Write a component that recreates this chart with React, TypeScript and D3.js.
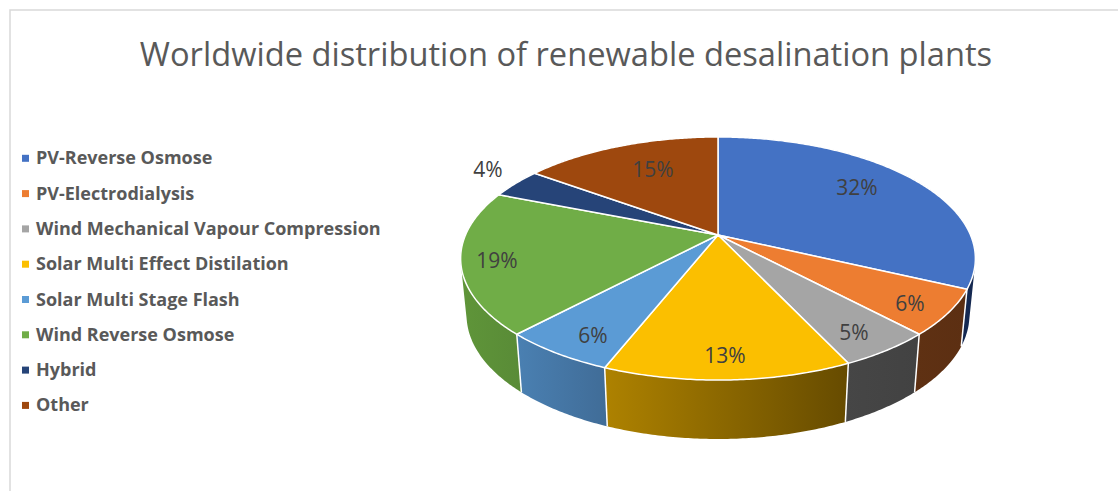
import React from "react";
import * as d3 from "d3";

const titleText = "Worldwide distribution of renewable desalination plants";
const categories = [
  "PV-Reverse Osmose",
  "PV-Electrodialysis",
  "Wind Mechanical Vapour Compression",
  "Solar Multi Effect Distilation",
  "Solar Multi Stage Flash",
  "Wind Reverse Osmose",
  "Hybrid",
  "Other",
];
const shares = [32, 6, 5, 13, 6, 19, 4, 15];
const faceColors = ["#4472C4", "#ED7D31", "#A5A5A5", "#FBBF00", "#5B9BD5", "#70AD47", "#264478", "#9E480E"];
const wallStart = ["#1C3768", "#5F3113", "#464646", "#AE8200", "#4A80B2", "#5F9539", "#1A2F55", "#6A300A"];
const wallEnd = ["#142850", "#5C2F12", "#424242", "#664B00", "#406C97", "#598B37", "#1A2F55", "#6A300A"];

// Label centres as pixel offsets from the pie's apex, one per slice.
const labelOffsets = [
  [139, -47],
  [192, 69],
  [136, 98],
  [7, 121],
  [-125, 101],
  [-221, 26],
  [-230, -65],
  [-65, -65],
];

const WIDTH = 1118;
const HEIGHT = 491;
const APEX_X = 718;
const APEX_Y = 235;
const RADIUS = 252.5;
const TILT = 117;
const PERSPECTIVE = 0.1935;
const WALL_DROP = 56;
const WALL_WIDTH = 0.977;
const WALL_TILT = 1.02;

const LEGEND_TOP = 158.3;
const LEGEND_STEP = 35.3;

// Perspective projection of a point on the pie's rim; angle runs clockwise from 12 o'clock.
function rimPoint(angle: number) {
  const u = Math.sin(angle);
  const v = -Math.cos(angle);
  const w = 1 - PERSPECTIVE * v;
  return { x: (RADIUS * u) / w, y: (TILT * v) / w };
}

const topPoint = (a: number): [number, number] => {
  const p = rimPoint(a);
  return [APEX_X + p.x, APEX_Y + p.y];
};
const bottomPoint = (a: number): [number, number] => {
  const p = rimPoint(a);
  return [APEX_X + p.x * WALL_WIDTH, APEX_Y + WALL_DROP + p.y * WALL_TILT];
};

const sampleAngles = (start: number, end: number) => {
  const n = Math.max(2, Math.ceil((end - start) / 0.01));
  return d3.range(n + 1).map((i) => start + ((end - start) * i) / n);
};

export default function App() {
  const slices = d3
    .pie<number>()
    .sort(null)
    .startAngle(0)
    .endAngle(2 * Math.PI)(shares);
  const line = d3.line();
  const color = d3.scaleOrdinal<string, string>().domain(categories).range(faceColors);
  const legendY = d3
    .scalePoint<string>()
    .domain(categories)
    .range([LEGEND_TOP, LEGEND_TOP + LEGEND_STEP * (categories.length - 1)]);

  const faces = slices.map((s) => {
    const arc = sampleAngles(s.startAngle, s.endAngle).map(topPoint);
    return `${line([[APEX_X, APEX_Y], ...arc])}Z`;
  });

  // Each wall is swept as thin quads between the rims. Every quad is wound the same way
  // so overlaps near the silhouette's tangent edge stay filled under the nonzero rule.
  const walls = slices.map((s) => {
    const angles = sampleAngles(s.startAngle, s.endAngle);
    return d3
      .pairs(angles)
      .map(([a, b]) => {
        const quad = [topPoint(a), topPoint(b), bottomPoint(b), bottomPoint(a)];
        if (d3.polygonArea(quad) < 0) quad.reverse();
        return `${line(quad)}Z`;
      })
      .join("");
  });
  const dividers = slices.map((s) => line([topPoint(s.startAngle), bottomPoint(s.startAngle)]) as string);

  return (
    <svg
      width={WIDTH}
      height={HEIGHT}
      viewBox={`0 0 ${WIDTH} ${HEIGHT}`}
      style={{ position: "absolute", left: 0, top: 0, background: "#fff", fontFamily: "'Open Sans', sans-serif" }}
    >
      <defs>
        {categories.map((c, i) => (
          <linearGradient key={c} id={`wall-${i}`} x1="0" y1="0" x2="1" y2="0">
            <stop offset="0" stopColor={wallStart[i]} />
            <stop offset="1" stopColor={wallEnd[i]} />
          </linearGradient>
        ))}
      </defs>

      {/* chart frame: only the top and left edges fall inside the view */}
      <path d={`M${WIDTH},10H10V${HEIGHT}`} fill="none" stroke="#D9D9D9" strokeWidth={1.5} />

      <text x={566} y={66} textAnchor="middle" fontSize={32.65} fill="#595959">
        {titleText}
      </text>

      <g>
        {categories.map((c) => (
          <g key={c}>
            <rect x={22} y={legendY(c)! - 3.5} width={7} height={7} fill={color(c)} />
            <text x={36} y={legendY(c)! - 0.3} dy="0.35em" fontSize={18} fontWeight={700} fill="#595959">
              {c}
            </text>
          </g>
        ))}
      </g>

      <g>
        {walls.map((d, i) => (
          <path key={categories[i]} d={d} fill={`url(#wall-${i})`} fillRule="nonzero" stroke="none" />
        ))}
      </g>
      <g stroke="#fff" strokeWidth={1.5} fill="none">
        {dividers.map((d, i) => (
          <path key={categories[i]} d={d} />
        ))}
      </g>
      <g stroke="#fff" strokeWidth={1.5} strokeLinejoin="round">
        {faces.map((d, i) => (
          <path key={categories[i]} d={d} fill={color(categories[i])} />
        ))}
      </g>

      <g fontSize={21} fill="#404040" textAnchor="middle">
        {shares.map((v, i) => (
          <text key={categories[i]} x={APEX_X + labelOffsets[i][0]} y={APEX_Y + labelOffsets[i][1]} dy="0.35em">
            {`${v}%`}
          </text>
        ))}
      </g>
    </svg>
  );
}
